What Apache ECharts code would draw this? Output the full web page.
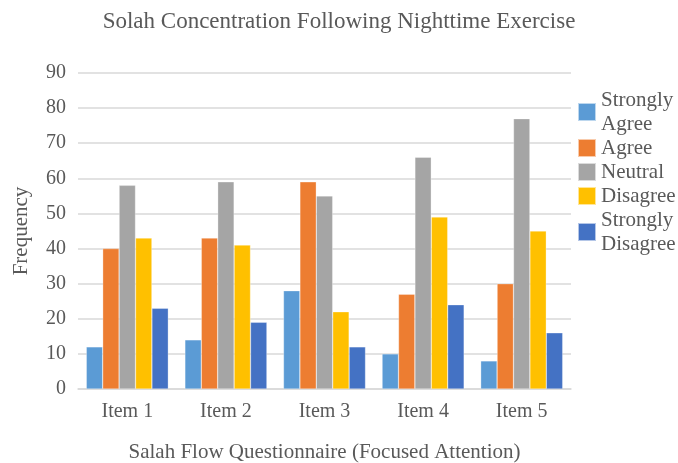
<!DOCTYPE html>
<html>
<head>
<meta charset="utf-8">
<script src="https://cdn.jsdelivr.net/npm/echarts@6/dist/echarts.min.js"></script>
<style>html,body{margin:0;padding:0;background:#fff}#chart{width:678px;height:463px}</style>
</head>
<body>
<div id="chart"></div>
<script>
const categories = ['Item 1', 'Item 2', 'Item 3', 'Item 4', 'Item 5'];
const seriesNames = ['Strongly Agree', 'Agree', 'Neutral', 'Disagree', 'Strongly Disagree'];
const stronglyAgree = [12, 14, 28, 10, 8];
const agree = [40, 43, 59, 27, 30];
const neutral = [58, 59, 55, 66, 77];
const disagree = [43, 41, 22, 49, 45];
const stronglyDisagree = [23, 19, 12, 24, 16];
const colors = ['#5B9BD5', '#ED7D31', '#A5A5A5', '#FFC000', '#4472C4'];

const values = [stronglyAgree, agree, neutral, disagree, stronglyDisagree];
const font = "Liberation Serif";
const textColor = '#595959';

const chart = echarts.init(document.getElementById('chart'), null, {renderer: 'canvas'});
chart.setOption({
  animation: false,
  textStyle: {fontFamily: font, color: textColor},
  title: {
    text: 'Solah Concentration Following Nighttime Exercise',
    left: 'center', top: 5,
    textStyle: {fontFamily: font, fontSize: 23, fontWeight: 'normal', color: textColor}
  },
  legend: {
    orient: 'vertical',
    left: 577, top: 88, padding: 0,
    itemWidth: 18, itemHeight: 18, itemGap: 0,
    icon: 'rect',
    formatter: n => n.replace('Strongly ', 'Strongly\n'),
    textStyle: {fontFamily: font, fontSize: 21, color: textColor, lineHeight: 24},
    data: seriesNames
  },
  grid: {left: 78, right: 107, top: 73, bottom: 74, containLabel: false, outerBoundsMode: 'none'},
  xAxis: {
    type: 'category',
    data: categories,
    axisTick: {show: false},
    axisLine: {lineStyle: {color: '#D9D9D9', width: 1.5}},
    axisLabel: {fontFamily: font, fontSize: 20, color: textColor, margin: 13},
    name: 'Salah Flow Questionnaire (Focused Attention)',
    nameLocation: 'middle', nameGap: 53,
    nameTextStyle: {fontFamily: font, fontSize: 21, color: textColor}
  },
  yAxis: {
    type: 'value',
    min: 0, max: 90, interval: 10,
    axisLine: {show: false},
    axisTick: {show: false},
    splitLine: {lineStyle: {color: '#D9D9D9', width: 1.5}},
    axisLabel: {fontFamily: font, fontSize: 20, color: textColor, margin: 12},
    name: 'Frequency',
    nameLocation: 'middle', nameGap: 46,
    nameTextStyle: {fontFamily: font, fontSize: 21, color: textColor}
  },
  series: seriesNames.map((name, i) => ({
    name: name,
    type: 'bar',
    data: values[i],
    barGap: '0%',
    barCategoryGap: '16.8%',
    itemStyle: {color: colors[i], borderColor: 'rgba(255,255,255,0.6)', borderWidth: 0.5}
  }))
});
</script>
</body>
</html>
